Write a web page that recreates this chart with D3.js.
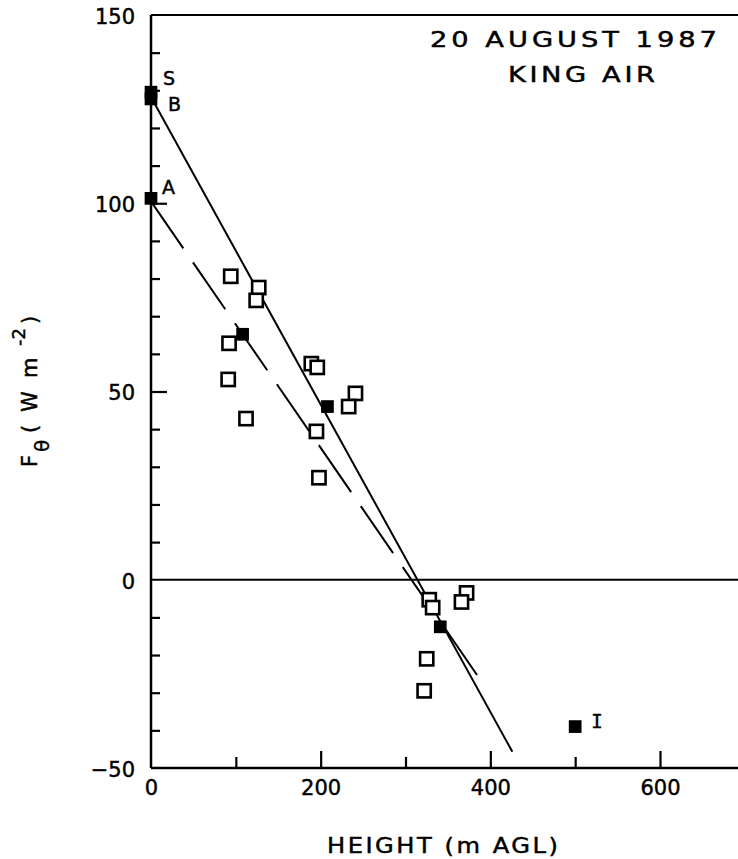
<!DOCTYPE html>
<html>
<head>
<meta charset="utf-8">
<script src="https://cdn.jsdelivr.net/npm/d3@7"></script>
<style>
  body { margin: 0; background: #fff; }
  svg { display: block; }
  text { font-family: "DejaVu Sans", "Liberation Sans", sans-serif; fill: #000; stroke: #000; stroke-width: 0.45px; }
</style>
</head>
<body>
<div id="chart"></div>
<script>
// values: height (m AGL) vs F_theta (W m^-2)
const openHeight = [94, 127, 124, 92, 91, 112, 189, 196, 241, 233, 195, 198, 328, 332, 372, 366, 325, 322];
const openFlux   = [80.6, 77.6, 74.2, 62.8, 53.2, 42.8, 57.4, 56.4, 49.5, 46, 39.4, 27.1, -5.3, -7.4, -3.5, -5.9, -21, -29.5];

const filledHeight = [0, 0, 0, 108, 208, 341, 500];
const filledFlux   = [129.5, 127.7, 101.3, 65.2, 46, -12.5, -39];

// fitted lines (end points)
const solidHeight  = [0, 426];
const solidFlux    = [128.2, -45.7];
const dashedHeight = [0, 388];
const dashedFlux   = [100.5, -26.5];

// letters beside some of the filled points
const pointLabels = ["S", "B", "A", "I"];
const pointLabelIndex = [0, 1, 2, 6];

const xLabelTicks = [0, 200, 400, 600];
const xMajorTicks = [200, 400, 600];
const xMinorTicks = [100, 300, 500];
const yLabelTicks = [-50, 0, 50, 100, 150];
const yMinorTicks = [-40, -30, -20, -10, 10, 20, 30, 40, 60, 70, 80, 90, 110, 120, 130, 140];

const titleLines = ["20 AUGUST 1987", "KING AIR"];
const xTitle = "HEIGHT  (m AGL)";

(function () {
  const W = 738, H = 859;
  const svg = d3.select("#chart").append("svg")
    .attr("width", W)
    .attr("height", H);

  const x = d3.scaleLinear().domain([0, 600]).range([151, 660]);
  const y = d3.scaleLinear().domain([-50, 150]).range([768, 15]);
  const xRight = W;

  // === axes ===
  const axisStyle = g => {
    g.select(".domain").remove();
    g.selectAll("line").attr("stroke", "#000").attr("stroke-width", 2.2);
    g.selectAll("text")
      .attr("font-size", 21)
      .attr("fill", "#000");
  };

  svg.append("g")
    .attr("transform", `translate(0,${y(-50)})`)
    .call(d3.axisBottom(x).tickValues(xMinorTicks).tickSize(-11).tickFormat(""))
    .call(axisStyle);
  svg.append("g")
    .attr("transform", `translate(0,${y(-50)})`)
    .call(d3.axisBottom(x).tickValues(xMajorTicks).tickSize(-17).tickFormat(""))
    .call(axisStyle);
  svg.append("g")
    .attr("transform", `translate(0,${y(-50)})`)
    .call(d3.axisBottom(x).tickValues(xLabelTicks).tickSize(0).tickPadding(12).tickFormat(d3.format("d")))
    .call(axisStyle);

  svg.append("g")
    .attr("transform", `translate(${x(0)},0)`)
    .call(d3.axisLeft(y).tickValues(yMinorTicks).tickSize(-9).tickFormat(""))
    .call(axisStyle);
  svg.append("g")
    .attr("transform", `translate(${x(0)},0)`)
    .call(d3.axisLeft(y).tickValues([50, 100]).tickSize(-16).tickFormat(""))
    .call(axisStyle);
  svg.append("g")
    .attr("transform", `translate(${x(0)},0)`)
    .call(d3.axisLeft(y).tickValues(yLabelTicks).tickSize(0).tickPadding(16).tickFormat(d3.format("d")))
    .call(axisStyle)
    .selectAll("text").attr("dy", "0.4em");

  // frame: left, bottom, top, zero line
  const frame = svg.append("g").attr("stroke", "#000").attr("fill", "none");
  frame.append("line").attr("x1", x(0)).attr("x2", x(0)).attr("y1", y(150)).attr("y2", y(-50)).attr("stroke-width", 2.5);
  frame.append("line").attr("x1", x(0)).attr("x2", xRight).attr("y1", y(-50)).attr("y2", y(-50)).attr("stroke-width", 2.5);
  frame.append("line").attr("x1", x(0)).attr("x2", xRight).attr("y1", y(150)).attr("y2", y(150)).attr("stroke-width", 2.2);
  frame.append("line").attr("x1", x(0)).attr("x2", xRight).attr("y1", y(0)).attr("y2", y(0)).attr("stroke-width", 2);

  // === fitted lines ===
  const line = d3.line().x(d => x(d[0])).y(d => y(d[1]));
  svg.append("path")
    .datum(d3.zip(solidHeight, solidFlux))
    .attr("d", line)
    .attr("fill", "none")
    .attr("stroke", "#000")
    .attr("stroke-width", 2);
  svg.append("path")
    .datum(d3.zip(dashedHeight, dashedFlux))
    .attr("d", line)
    .attr("fill", "none")
    .attr("stroke", "#000")
    .attr("stroke-width", 2)
    .attr("stroke-dasharray", "57,17");

  // === open squares ===
  const openSize = 13.2;
  svg.append("g").selectAll("rect")
    .data(d3.zip(openHeight, openFlux))
    .join("rect")
    .attr("x", d => x(d[0]) - openSize / 2)
    .attr("y", d => y(d[1]) - openSize / 2)
    .attr("width", openSize)
    .attr("height", openSize)
    .attr("fill", "#fff")
    .attr("stroke", "#000")
    .attr("stroke-width", 2.6);

  // === filled squares ===
  const filledSize = 12.7;
  svg.append("g").selectAll("rect")
    .data(d3.zip(filledHeight, filledFlux))
    .join("rect")
    .attr("x", d => x(d[0]) - filledSize / 2)
    .attr("y", d => y(d[1]) - filledSize / 2)
    .attr("width", filledSize)
    .attr("height", filledSize)
    .attr("fill", "#000");

  // letters next to the filled points
  const labelOffset = { S: [12, -7], B: [17, 12], A: [11, -4], I: [16, 1] };
  pointLabels.forEach((t, i) => {
    const k = pointLabelIndex[i];
    svg.append("text")
      .attr("x", x(filledHeight[k]) + labelOffset[t][0])
      .attr("y", y(filledFlux[k]) + labelOffset[t][1])
      .attr("font-size", 19)
      .style("font-family", t === "I" ? "'DejaVu Sans Mono', monospace" : null)
      .text(t);
  });

  // === title block (lettering is wider than any installed font) ===
  const stretch = 1.3;
  const titleText = (str, x0, y0, len) => svg.append("text")
    .attr("transform", `translate(${x0},${y0}) scale(${stretch},1)`)
    .attr("font-size", 21)
    .attr("textLength", len / stretch).attr("lengthAdjust", "spacing")
    .text(str);
  titleText(titleLines[0], 430, 47, 287);
  titleText(titleLines[1], 508, 82, 147);

  // === axis titles ===
  svg.append("text")
    .attr("transform", `translate(327,853) scale(1.15,1)`)
    .attr("font-size", 21)
    .attr("textLength", 231 / 1.15).attr("lengthAdjust", "spacing")
    .text(xTitle);

  // y title pieces, placed along the rotated baseline
  const yt = svg.append("g").attr("transform", "translate(37,467) rotate(-90)");
  const yPieces = [
    { t: "F",  u: 0,   v: 0,   fs: 21 },
    { t: "θ",  u: 15,  v: 12,  fs: 20 },
    { t: "(",  u: 34,  v: 0,   fs: 21 },
    { t: "W",  u: 55,  v: 0,   fs: 21 },
    { t: "m",  u: 89,  v: 0,   fs: 21 },
    { t: "-2", u: 121, v: -12, fs: 18 },
    { t: ")",  u: 143, v: 0,   fs: 21 }
  ];
  yt.selectAll("text")
    .data(yPieces)
    .join("text")
    .attr("x", d => d.u)
    .attr("y", d => d.v)
    .attr("font-size", d => d.fs)
    .text(d => d.t);
})();
</script>
</body>
</html>
